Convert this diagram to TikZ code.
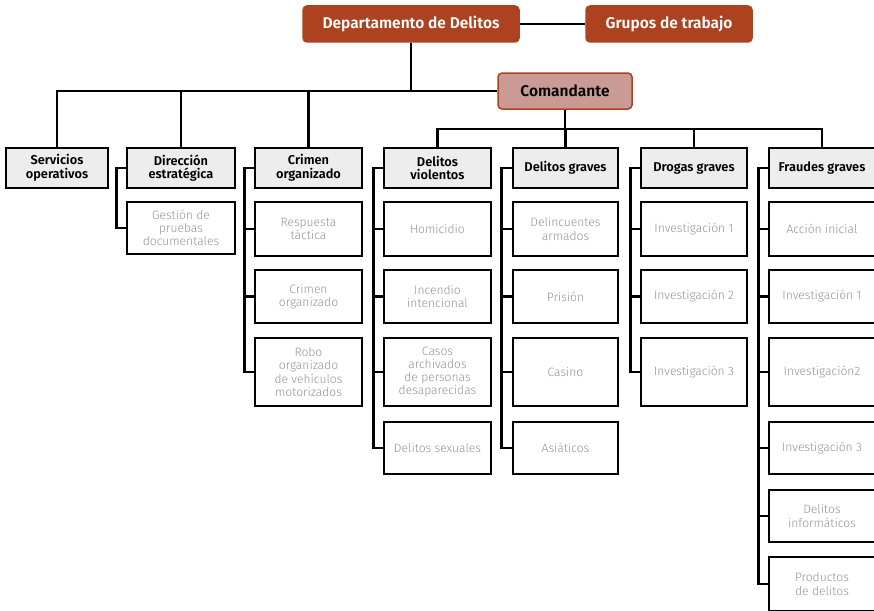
\documentclass[tikz,border=0pt]{standalone}
\usepackage{fontspec}
\setmainfont{Fira Sans}[UprightFont=* Light, BoldFont=* SemiBold]
\begin{document}
\definecolor{rust}{HTML}{AD4220}
\definecolor{rose}{HTML}{C99B94}
\definecolor{hdrgray}{HTML}{EDEDED}
\definecolor{txtgray}{HTML}{939393}
\tikzset{
  topbox/.style={draw=rust, fill=rust, rounded corners=4pt, line width=1.5pt,
    text=white, font=\fontsize{15.5}{17}\selectfont\bfseries, minimum height=36pt, inner sep=2pt},
  chiefbox/.style={topbox, fill=rose, text=black},
  hdrbox/.style={draw=black, fill=hdrgray, line width=2.3pt, align=center,
    font=\fontsize{12.8}{13.5}\selectfont\bfseries, minimum height=40pt, inner sep=2pt},
  unitbox/.style={draw=black, fill=white, line width=2.3pt, align=center, text=txtgray,
    font=\fontsize{12.1}{13.3}\selectfont, inner sep=2pt},
  link/.style={draw=black, line width=2.8pt},
}
\begin{tikzpicture}[x=1pt, y=-1pt]
\useasboundingbox (0,0) rectangle (874,610);

% top level
\node[topbox, minimum width=216pt] (dept) at (411,24) {Departamento de Delitos};
\node[topbox, minimum width=166pt] (grupos) at (669,24) {Grupos de trabajo};
\node[chiefbox, minimum width=134pt] (coman) at (565,91) {Comandante};

% department heads
\node[hdrbox, minimum width=102pt] (serv)   at (57,168)    {Servicios\\operativos};
\node[hdrbox, minimum width=108pt] (dir)    at (181,168)   {Dirección\\estratégica};
\node[hdrbox, minimum width=107pt] (crim)   at (308.5,168) {Crimen\\organizado};
\node[hdrbox, minimum width=107pt] (viol)   at (437.5,168) {Delitos\\violentos};
\node[hdrbox, minimum width=105pt] (graves) at (565.5,168) {Delitos graves};
\node[hdrbox, minimum width=106pt] (drogas) at (694,168)   {Drogas graves};
\node[hdrbox, minimum width=106pt] (fraud)  at (822,168)   {Fraudes graves};

% units: Dirección estratégica
\node[unitbox, minimum width=108pt, minimum height=52pt] (dir1) at (181,228) {Gestión de\\pruebas\\documentales};

% units: Crimen organizado
\node[unitbox, minimum width=107pt, minimum height=54pt] (crim1) at (308.5,229)   {Respuesta\\táctica};
\node[unitbox, minimum width=107pt, minimum height=53pt] (crim2) at (308.5,296.5) {Crimen\\organizado};
\node[unitbox, minimum width=107pt, minimum height=68pt] (crim3) at (308.5,372)   {Robo\\organizado\\de vehículos\\motorizados};

% units: Delitos violentos
\node[unitbox, minimum width=107pt, minimum height=54pt] (viol1) at (437.5,229)   {Homicidio};
\node[unitbox, minimum width=107pt, minimum height=53pt] (viol2) at (437.5,296.5) {Incendio\\intencional};
\node[unitbox, minimum width=107pt, minimum height=68pt] (viol3) at (437.5,372)   {Casos\\archivados\\de personas\\desaparecidas};
\node[unitbox, minimum width=107pt, minimum height=52pt] (viol4) at (437.5,448)   {Delitos sexuales};

% units: Delitos graves
\node[unitbox, minimum width=105pt, minimum height=54pt] (grav1) at (565.5,229)   {Delincuentes\\armados};
\node[unitbox, minimum width=105pt, minimum height=53pt] (grav2) at (565.5,296.5) {Prisión};
\node[unitbox, minimum width=105pt, minimum height=68pt] (grav3) at (565.5,372)   {Casino};
\node[unitbox, minimum width=105pt, minimum height=52pt] (grav4) at (565.5,448)   {Asiáticos};

% units: Drogas graves
\node[unitbox, minimum width=106pt, minimum height=54pt] (drog1) at (694,229)   {Investigación 1};
\node[unitbox, minimum width=106pt, minimum height=53pt] (drog2) at (694,296.5) {Investigación 2};
\node[unitbox, minimum width=106pt, minimum height=68pt] (drog3) at (694,372)   {Investigación 3};

% units: Fraudes graves
\node[unitbox, minimum width=106pt, minimum height=54pt] (frau1) at (822,229)   {Acción inicial};
\node[unitbox, minimum width=106pt, minimum height=53pt] (frau2) at (822,296.5) {Investigación 1};
\node[unitbox, minimum width=106pt, minimum height=68pt] (frau3) at (822,372)   {Investigación2};
\node[unitbox, minimum width=106pt, minimum height=52pt] (frau4) at (822,448)   {Investigación 3};
\node[unitbox, minimum width=106pt, minimum height=52pt] (frau5) at (822,516)   {Delitos\\informáticos};
\node[unitbox, minimum width=106pt, minimum height=54pt] (frau6) at (822,584)   {Productos\\de delitos};

% top connectors
\draw[link] (dept) -- (grupos);
\draw[link] (coman.west) -- (serv.north |- coman.west) -- (serv.north);
\draw[link] (dept.south) -- (dept.south |- coman.west);
\draw[link] (dir.north) -- (dir.north |- coman.west);
\draw[link] (crim.north) -- (crim.north |- coman.west);

% Comandante bus
\coordinate (bus) at (0,129);
\draw[link] (coman.south) -- (coman.south |- bus);
\draw[link] (viol.north) -- (viol.north |- bus) -- (fraud.north |- bus) -- (fraud.north);
\draw[link] (graves.north) -- (graves.north |- bus);
\draw[link] (drogas.north) -- (drogas.north |- bus);

% unit branches
\draw[link] (dir.west) -- ++(-9,0) |- (dir1.west);
\draw[link] (crim.west) -- ++(-9,0) |- (crim3.west);
\foreach \u in {crim1,crim2} \draw[link] (\u.west) -- ++(-9,0);
\draw[link] (viol.west) -- ++(-9,0) |- (viol4.west);
\foreach \u in {viol1,viol2,viol3} \draw[link] (\u.west) -- ++(-9,0);
\draw[link] (graves.west) -- ++(-10,0) |- (grav4.west);
\foreach \u in {grav1,grav2,grav3} \draw[link] (\u.west) -- ++(-10,0);
\draw[link] (drogas.west) -- ++(-9,0) |- (drog3.west);
\foreach \u in {drog1,drog2} \draw[link] (\u.west) -- ++(-9,0);
\draw[link] (fraud.west) -- ++(-9,0) |- (frau6.west);
\foreach \u in {frau1,frau2,frau3,frau4,frau5} \draw[link] (\u.west) -- ++(-9,0);
\end{tikzpicture}
\end{document}
